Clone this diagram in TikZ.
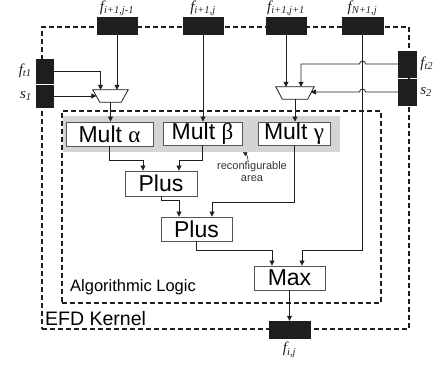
\documentclass[tikz,border=0pt]{standalone}
\usepackage{fontspec}
\setsansfont{Liberation Sans}
\newfontfamily\lblserif{Liberation Serif}
\usetikzlibrary{arrows.meta,positioning}
\definecolor{ink}{HTML}{1E1E1E}
\definecolor{boxline}{HTML}{555555}
\definecolor{areafill}{HTML}{D4D4D4}
\definecolor{notegray}{HTML}{333333}
\tikzset{
  every node/.style={font=\sffamily},
  port/.style={draw=ink, fill=ink, inner sep=0pt},
  unit/.style={draw=boxline, line width=0.9pt, fill=white, inner sep=0pt, font=\sffamily\fontsize{23}{23}\selectfont},
  frame/.style={draw=ink, dashed, dash pattern=on 5pt off 3pt, line width=1.3pt, inner sep=0pt},
  muxbox/.style={inner sep=0pt, minimum height=12pt},
  muxline/.style={draw=ink, line width=0.8pt, fill=white},
  wire/.style={draw=ink, line width=0.8pt},
  arrow/.style={wire, -{Triangle[length=5pt,width=5pt]}},
  sig/.style={font=\lblserif\itshape\fontsize{15}{15}\selectfont, inner sep=0pt, text=ink},
  note/.style={font=\sffamily\fontsize{11}{12}\selectfont, align=center, inner sep=1pt, text=notegray},
}

\begin{document}
\begin{tikzpicture}[x=1pt,y=-1pt]
\useasboundingbox (0,0) rectangle (441,367);
% frames and reconfigurable area
\node[frame, minimum width=367pt, minimum height=302pt] (kernel) at (225.5,178) {};
\node[frame, minimum width=319pt, minimum height=192pt] (logic) at (221.5,207) {};
\node[fill=areafill, inner sep=0pt, minimum width=277pt, minimum height=36pt] (area) at (201.5,134) {};
\node[anchor=west, inner sep=0pt, font=\sffamily\fontsize{16.5}{16.5}\selectfont] (logictxt) at (70,287) {Algorithmic Logic};
\node[anchor=west, inner sep=0pt, font=\sffamily\fontsize{19.5}{19.5}\selectfont] (kerneltxt) at (45,319) {EFD Kernel};
% units
\node[unit, minimum width=87pt, minimum height=24pt] (multa) at (109.5,134) {Mult {\lblserif α}};
\node[unit, minimum width=79pt, minimum height=23pt] (multb) at (202.5,133.5) {Mult {\lblserif β}};
\node[unit, minimum width=72pt, minimum height=23pt] (multg) at (294,133.5) {Mult {\lblserif γ}};
\node[unit, minimum width=72pt, minimum height=25pt] (plus1) at (161,183.5) {Plus};
\node[unit, minimum width=71pt, minimum height=24pt] (plus2) at (196.5,229) {Plus};
\node[unit, minimum width=71pt, minimum height=24pt] (max) at (289.5,278) {Max};
\node[note] (cfg) at (252,172) {reconfigurable\\area};
% multiplexers
\node[muxbox, minimum width=35pt] (muxl) at (110.5,96) {};
\node[muxbox, minimum width=38pt] (muxr) at (295,93) {};
\draw[muxline] (muxl.north west) -- (muxl.north east) -- ([xshift=-7pt]muxl.south east) -- ([xshift=7pt]muxl.south west) -- cycle;
\draw[muxline] (muxr.north west) -- (muxr.north east) -- ([xshift=-6.5pt]muxr.south east) -- ([xshift=6.5pt]muxr.south west) -- cycle;
% ports
\node[port, minimum width=40pt, minimum height=17pt] (fa) at (117,25.5) {};
\node[port, minimum width=40pt, minimum height=17pt] (fb) at (203,25.5) {};
\node[port, minimum width=40pt, minimum height=17pt] (fc) at (286,25.5) {};
\node[port, minimum width=41pt, minimum height=17pt] (fd) at (362.5,25.5) {};
\node[port, minimum width=17pt, minimum height=24pt] (ft1) at (44.5,71) {};
\node[port, minimum width=17pt, minimum height=22pt] (s1) at (44.5,96) {};
\node[port, minimum width=18pt, minimum height=26pt] (ft2) at (407,64) {};
\node[port, minimum width=18pt, minimum height=26pt] (s2) at (407,92) {};
\node[port, minimum width=41pt, minimum height=17pt] (out) at (289.5,329.5) {};
% port labels
\node[sig, above=1pt of fa] (fal) {f\textsubscript{i+1,j-1}};
\node[sig, above=1pt of fb] (fbl) {f\textsubscript{i+1,j}};
\node[sig, above=1pt of fc] (fcl) {f\textsubscript{i+1,j+1}};
\node[sig, above=1pt of fd] (fdl) {f\textsubscript{N+1,j}};
\node[sig, left=4pt of ft1] (ft1l) {f\textsubscript{t1}};
\node[sig, left=4pt of s1] (s1l) {s\textsubscript{1}};
\node[sig, right=4pt of ft2] (ft2l) {f\textsubscript{t2}};
\node[sig, right=4pt of s2] (s2l) {s\textsubscript{2}};
\node[sig, below=4pt of out] (outl) {f\textsubscript{i,j}};
% inputs to the multiplexers
\draw[arrow] (ft1.east) -| ([xshift=-10pt]muxl.north);
\draw[arrow] (fa.south) -- (fa.south |- muxl.north);
\draw[arrow] (s1.east) -- ([xshift=3.5pt]muxl.west);
\draw[arrow] (fc.south) -- (fc.south |- muxr.north);
\coordinate (hop1) at (fd.south |- ft2.west);
\coordinate (hop2) at (fd.south |- s2.west);
\draw[arrow] (ft2.west) -- ([xshift=3pt]hop1) arc[start angle=0, end angle=180, radius=3pt] -| ([xshift=6pt]muxr.north);
\draw[arrow] (s2.west) -- ([xshift=3pt]hop2) arc[start angle=0, end angle=180, radius=3pt] -- ([xshift=-3.25pt]s2.west -| muxr.east);
% datapath
\draw[arrow] (muxl.south) -- (muxl.south |- multa.north);
\draw[arrow] (fb.south) -- (fb.south |- multb.north);
\draw[arrow] (muxr.south) -- (muxr.south |- multg.north);
\draw[arrow] (multa.south) |- ([xshift=-18pt,yshift=10pt]plus1.north) -- ([xshift=-18pt]plus1.north);
\draw[arrow] (multb.south) |- ([xshift=18pt,yshift=10pt]plus1.north) -- ([xshift=18pt]plus1.north);
\draw[arrow] (plus1.south) |- ([xshift=-17.5pt,yshift=16pt]plus2.north) -- ([xshift=-17.5pt]plus2.north);
\draw[arrow] (multg.south) |- ([xshift=15.5pt,yshift=14pt]plus2.north) -- ([xshift=15.5pt]plus2.north);
\draw[arrow] (plus2.south) |- ([xshift=-17.5pt,yshift=15pt]max.north) -- ([xshift=-17.5pt]max.north);
\draw[arrow] (fd.south) |- ([xshift=12.5pt,yshift=15pt]max.north) -- ([xshift=12.5pt]max.north);
\draw[arrow] (max.south) -- (max.south |- out.north);
\draw[arrow, line width=0.6pt, -{Triangle[length=4pt,width=4pt]}] ([xshift=-4pt]cfg.north) to[bend right=30] ([xshift=-9pt]cfg.north |- area.south);
\end{tikzpicture}
\end{document}
